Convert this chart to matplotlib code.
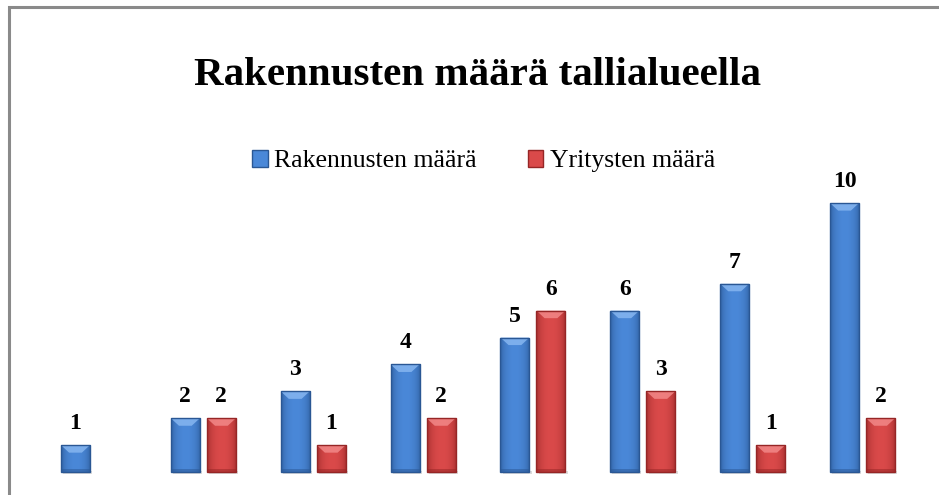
#!/usr/bin/env python3
"""
Bar chart: Rakennusten määrä tallialueella
(buildings / companies per area, bevelled bars like the office chart)
"""
import numpy as np
import matplotlib

matplotlib.use("Agg")
import matplotlib.pyplot as plt
from matplotlib.patches import Polygon, Rectangle, Patch

# %% data
groups = ["1", "2", "3", "4", "5", "6", "7", "8"]
rakennukset = [1, 2, 3, 4, 5, 6, 7, 10]
yritykset = [0, 2, 1, 2, 6, 3, 1, 2]  # first group has no red bar
series_names = ["Rakennusten määrä", "Yritysten määrä"]
title = "Rakennusten määrä tallialueella"

# %% styles
BLUE = {"mid": "#4a88d8", "edge": "#2a5794", "light": "#86b6f0"}
RED = {"mid": "#da4a4a", "edge": "#962626", "light": "#f28888"}
SERIF = ["Liberation Serif", "DejaVu Serif"]


def bevel_bar(ax, bar, pal):
    """draw gradient + top bevel on top of a plain bar"""
    x0, w, h = bar.get_x(), bar.get_width(), bar.get_height()
    if h <= 0:
        return
    # horizontal gradient, dark at sides
    t = np.linspace(-1, 1, 64)
    prof = 1 - t**2
    c_edge = np.array(matplotlib.colors.to_rgb(pal["edge"]))
    c_mid = np.array(matplotlib.colors.to_rgb(pal["mid"]))
    img = c_edge[None, :] + (c_mid - c_edge)[None, :] * np.sqrt(prof)[:, None]
    im = ax.imshow(img[None, :, :], extent=(x0, x0 + w, 0, h), aspect="auto",
                   zorder=3, interpolation="bilinear")
    im.set_clip_path(bar)
    # top bevel
    dx, dy = w * 0.28, 0.28
    dy = min(dy, h / 2)
    ax.add_patch(Polygon([(x0, h), (x0 + w, h), (x0 + w - dx, h - dy), (x0 + dx, h - dy)],
                         closed=True, facecolor=pal["light"], edgecolor="none",
                         alpha=0.85, zorder=4))
    # bottom darker band
    ax.add_patch(Rectangle((x0, 0), w, min(0.12, h / 4), facecolor=pal["edge"],
                           edgecolor="none", alpha=0.5, zorder=4))
    # outline
    ax.add_patch(Rectangle((x0, 0), w, h, facecolor="none", edgecolor=pal["edge"],
                           linewidth=1.0, zorder=5))
    # drop shadow
    ax.add_patch(Rectangle((x0 + 0.02, -0.06), w, 0.08, facecolor="#bbbbbb",
                           edgecolor="none", alpha=0.5, zorder=2))


fig = plt.figure(figsize=(9.39, 4.95), dpi=100)
fig.patch.set_facecolor("white")
ax = fig.add_axes([0, 0, 1, 1])
ax.set_axis_off()

x = np.arange(len(groups))
bw = 0.264
off = 0.164
b1 = ax.bar(x - off, rakennukset, width=bw, color=BLUE["mid"], zorder=2)
b2 = ax.bar(x + off, yritykset, width=bw, color=RED["mid"], zorder=2)

for bar in b1:
    bevel_bar(ax, bar, BLUE)
for bar in b2:
    bevel_bar(ax, bar, RED)

# data labels
for bars, vals in ((b1, rakennukset), (b2, yritykset)):
    for bar, v in zip(bars, vals):
        if v == 0:
            continue
        ax.text(bar.get_x() + bar.get_width() / 2, v + 0.8, str(v),
                ha="center", va="center", fontsize=17, fontweight="bold",
                family=SERIF, zorder=6)

# scale: ~110 px per group, ~26.9 px per unit, baseline 23 px above bottom
ax.set_xlim(-0.851, 7.696)
ax.set_ylim(-0.855, 17.55)

# title and legend
fig.text(0.508, 0.848, title, ha="center", va="center", fontsize=29.5,
         fontweight="bold", family=SERIF)
handles = [Patch(facecolor=BLUE["mid"], edgecolor=BLUE["edge"]),
           Patch(facecolor=RED["mid"], edgecolor=RED["edge"])]
fig.legend(handles, series_names, loc="center", bbox_to_anchor=(0.515, 0.674),
           ncol=2, frameon=False, handlelength=0.6, handleheight=0.6,
           handletextpad=0.25, columnspacing=2.0,
           prop={"family": SERIF, "size": 18.5})

# chart frame (clipped at right/bottom in the source image)
fig.patches.append(Rectangle((9 / 939, -0.1), 1.2, 1 - 7 / 495 + 0.1,
                             transform=fig.transFigure, facecolor="none",
                             edgecolor="#8a8a8a", linewidth=2.2))

fig.savefig("out.png", dpi=100)
